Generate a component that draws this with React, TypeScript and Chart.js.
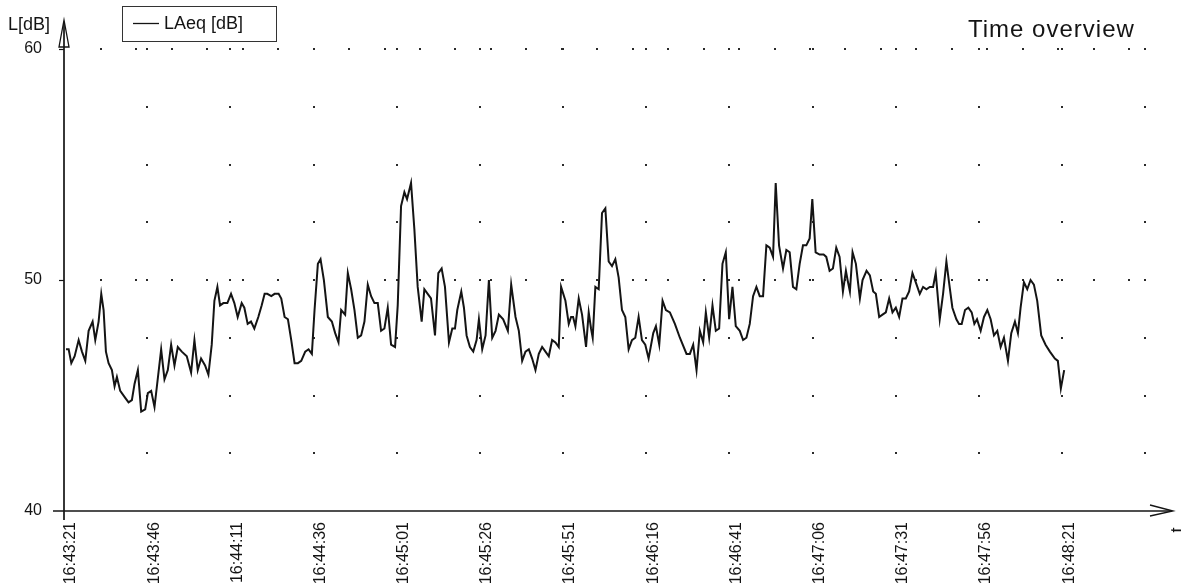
import { useEffect, useRef } from 'react';
import { Chart, registerables } from 'chart.js';

Chart.register(...registerables);

// ---------- data ----------
const startClock = [16, 43, 21]; // hh, mm, ss at t = 0
const tickSeconds = [0, 25, 50, 75, 100, 125, 150, 175, 200, 225, 250, 275, 300];
const gridSeconds = [25, 50, 75, 100, 125, 150, 175, 200, 225, 250, 275, 300, 325];
const yTickValues = [40, 50, 60];
const yDotLevels = [42.5, 45, 47.5, 52.5, 55, 57.5];
const yDottedLines = [50, 60];
const seriesLabel = 'LAeq [dB]';
const chartTitle = 'Time overview';
const yAxisTitle = 'L[dB]';
const xAxisTitle = 't';

// seconds after 16:43:21
const times = [
  0.6, 1.4, 2.2, 3.2, 4.4, 5.4, 6.4, 7.4, 8.6, 9.4, 10.4, 11.2, 11.9, 12.6, 13.4, 14.4, 15.2, 15.9, 16.9, 18.4,
  19.4, 20.4, 21.2, 22.2, 23.2, 24.4, 25.2, 26.2, 27.2, 29.2, 30.2, 31.2, 32.2, 33.2, 34.2, 35.4, 36.9, 38.2, 39.2, 40.2,
  41.2, 42.4, 43.4, 44.4, 45.2, 46.1, 46.9, 47.9, 49.1, 50.2, 51.2, 52.2, 53.4, 54.2, 55.2, 56.2, 57.2, 58.4, 59.4,
  60.3, 61.1, 62.3, 63.3, 64.5, 65.3, 66.3, 67.3, 68.3, 69.3, 70.3, 71.3, 72.5, 73.5, 74.5, 75.3, 76.3, 77.1, 78.1, 79.3,
  80.5, 81.5, 82.5, 83.3, 84.5, 85.3, 86.3, 87.3, 88.3, 89.3, 90.3, 91.3, 92.3, 93.3, 94.3, 95.3, 96.3, 97.3, 98.3, 99.5,
  100.3, 101.3, 102.3, 103.1, 104.3, 105.3, 106.3, 107.5, 108.3, 109.3, 110.3, 111.5, 112.5, 113.5, 114.5, 115.7, 116.7, 117.5,
  118.2, 119.4, 120.2, 121.0, 122.0, 123.0, 124.0, 124.7, 125.7, 126.7, 127.7, 128.7, 129.7, 130.7, 132.0, 133.4, 134.4, 135.7,
  136.7, 137.7, 138.7, 139.7, 140.7, 141.7, 142.7, 143.7, 144.7, 145.7, 146.7, 147.7, 148.7, 149.4, 150.7, 151.7, 152.4, 153.0,
  153.7, 154.7, 155.7, 156.9, 157.7, 158.4, 158.9, 159.7, 160.7, 161.7, 162.7, 163.7, 164.7, 165.7, 166.7, 167.7, 168.7, 169.7,
  170.7, 171.7, 172.7, 173.7, 174.7, 175.7,
  177.1, 177.9, 178.9, 179.9, 180.9, 182.1, 183.6, 185.1, 187.1, 188.1, 189.1, 190.1, 191.1, 192.1, 192.9, 193.9, 194.9, 195.9,
  196.9, 197.9, 198.9, 199.9, 200.9, 201.9, 203.1, 204.1, 205.1, 206.1, 207.1, 208.1, 209.1, 210.1, 211.1, 212.1, 213.1, 213.9,
  214.9, 216.1, 217.1, 218.1, 219.1, 220.1, 221.1, 222.1, 223.1, 224.1, 224.9, 225.9, 227.1, 228.3, 229.1, 230.1, 231.1, 232.1,
  233.1, 234.1,
  235.0, 235.5, 236.2, 237.0, 238.0, 239.2, 240.0, 241.2, 242.2, 243.2, 244.0, 245.0, 246.0, 247.0, 248.0, 249.0, 250.0, 251.0,
  252.0, 253.0, 254.0, 255.0, 256.0, 257.2, 258.2, 259.2, 260.2, 261.2, 262.0, 263.2, 264.2, 265.2, 266.0, 267.0, 268.2, 269.0,
  269.8, 270.8, 271.8, 272.8, 273.6, 274.4, 275.5, 276.5, 277.5, 278.5, 279.5, 280.5, 281.5, 282.5, 283.7, 284.7, 285.8, 286.7,
  287.5, 288.5, 289.5, 290.5, 291.5, 292.5, 293.7, 295.0, 296.3, 297.8, 298.7, 299.6, 300.6,
];

const levels = [
  47.0, 47.0, 46.4, 46.7, 47.4, 46.9, 46.5, 47.8, 48.2, 47.4, 48.2, 49.4, 48.7, 46.9, 46.4, 46.1, 45.4, 45.8, 45.2, 44.9,
  44.7, 44.8, 45.5, 46.1, 44.3, 44.4, 45.1, 45.2, 44.5, 47.0, 45.7, 46.1, 47.2, 46.3, 47.1, 46.9, 46.7, 46.0, 47.4, 46.1,
  46.6, 46.3, 45.9, 47.2, 49.1, 49.7, 48.9, 49.0, 49.0, 49.4, 49.0, 48.4, 49.0, 48.8, 48.1, 48.2, 47.9, 48.4, 48.9,
  49.4, 49.4, 49.3, 49.4, 49.4, 49.2, 48.4, 48.3, 47.4, 46.4, 46.4, 46.5, 46.9, 47.0, 46.8, 48.7, 50.7, 50.9, 50.0, 48.4,
  48.2, 47.7, 47.3, 48.7, 48.5, 50.3, 49.6, 48.7, 47.5, 47.6, 48.2, 49.8, 49.3, 49.0, 49.0, 47.8, 47.9, 48.8, 47.2, 47.1,
  48.9, 53.2, 53.8, 53.5, 54.2, 52.2, 49.7, 48.2, 49.6, 49.4, 49.2, 47.6, 50.3, 50.5, 49.7, 47.3, 47.9, 47.9,
  48.7, 49.5, 48.8, 47.6, 47.1, 46.9, 47.4, 48.3, 47.0, 47.6, 50.0, 47.5, 47.8, 48.5, 48.3, 47.8, 49.8, 48.4,
  47.8, 46.5, 46.9, 47.0, 46.6, 46.1, 46.8, 47.1, 46.9, 46.7, 47.4, 47.3, 47.1, 49.7, 49.1, 48.1, 48.4, 48.4,
  48.0, 49.2, 48.5, 47.1, 48.6, 47.9, 47.5, 49.7, 49.6, 52.9, 53.1, 50.8, 50.6, 50.9, 50.1, 48.7, 48.4, 47.0,
  47.4, 47.5, 48.4, 47.4, 47.2, 46.6,
  47.7, 48.0, 47.2, 49.1, 48.7, 48.6, 48.1, 47.5, 46.8, 46.8, 47.2, 46.1, 47.8, 47.3, 48.6, 47.5, 48.9, 47.8,
  47.9, 50.7, 51.2, 48.3, 49.7, 48.0, 47.8, 47.4, 47.5, 48.1, 49.3, 49.7, 49.3, 49.3, 51.5, 51.4, 51.0, 54.2,
  51.5, 50.5, 51.3, 51.2, 49.7, 49.6, 50.7, 51.5, 51.5, 51.8, 53.5, 51.2, 51.1, 51.1, 51.0, 50.4, 50.5, 51.4,
  51.0, 49.5,
  50.4, 50.0, 49.5, 51.2, 50.7, 49.2, 50.0, 50.4, 50.2, 49.5, 49.4, 48.4, 48.5, 48.6, 49.2, 48.6, 48.8, 48.4,
  49.2, 49.2, 49.5, 50.3, 49.9, 49.4, 49.7, 49.6, 49.7, 49.7, 50.3, 48.3, 49.4, 50.8, 49.9, 48.8, 48.3, 48.1,
  48.1, 48.7, 48.8, 48.6, 48.1, 48.3, 47.8, 48.4, 48.7, 48.3, 47.6, 47.8, 47.1, 47.5, 46.5, 47.7, 48.2, 47.7,
  48.8, 49.9, 49.6, 50.0, 49.8, 49.1, 47.6, 47.2, 46.9, 46.6, 46.5, 45.3, 46.1,
];

// ---------- helpers ----------
const FONT = '"Liberation Sans", Arial, Helvetica, sans-serif';
const INK = '#141414';

function clockLabel(sec: number): string {
  const total = startClock[0] * 3600 + startClock[1] * 60 + startClock[2] + Math.round(sec);
  const h = Math.floor(total / 3600);
  const m = Math.floor((total % 3600) / 60);
  const s = total % 60;
  const p = (n: number) => String(n).padStart(2, '0');
  return `${p(h)}:${p(m)}:${p(s)}`;
}

const decorPlugin = {
  id: 'decor',
  beforeDatasetsDraw(chart: any) {
    const { ctx, chartArea, scales } = chart;
    const x = scales.x;
    const y = scales.y;
    ctx.save();
    ctx.fillStyle = '#2a2a2a';
    // grid intersection dots
    for (const t of gridSeconds) {
      const px = Math.round(x.getPixelForValue(t));
      for (const v of yDotLevels.concat(yDottedLines)) {
        const py = Math.round(y.getPixelForValue(v));
        ctx.fillRect(px - 1, py - 1, 2, 2);
      }
    }
    // dotted major lines
    for (const v of yDottedLines) {
      const py = Math.round(y.getPixelForValue(v));
      for (let px = chartArea.left + 37; px <= chartArea.right - 25; px += 35.45) {
        ctx.fillRect(Math.round(px) - 1, py - 1, 2, 2);
      }
    }
    ctx.restore();
  },
  afterDraw(chart: any) {
    const { ctx, chartArea, scales } = chart;
    const y = scales.y;
    const left = chartArea.left;
    const bottom = chartArea.bottom;
    ctx.save();
    ctx.strokeStyle = INK;
    ctx.fillStyle = INK;
    ctx.lineWidth = 1.7;
    // y axis
    ctx.beginPath();
    ctx.moveTo(left, 22);
    ctx.lineTo(left, bottom + 9);
    ctx.stroke();
    // y arrow (outlined)
    ctx.lineWidth = 1.3;
    ctx.beginPath();
    ctx.moveTo(left, 20);
    ctx.lineTo(left - 5, 47);
    ctx.lineTo(left + 5, 47);
    ctx.closePath();
    ctx.stroke();
    // x axis
    ctx.lineWidth = 1.7;
    ctx.beginPath();
    ctx.moveTo(left - 11, bottom);
    ctx.lineTo(1172, bottom);
    ctx.stroke();
    // x arrow (open)
    ctx.lineWidth = 1.3;
    ctx.beginPath();
    ctx.moveTo(1150, bottom - 6);
    ctx.lineTo(1173, bottom);
    ctx.lineTo(1150, bottom + 5);
    ctx.stroke();
    // y tick marks
    ctx.lineWidth = 1.2;
    for (const v of yTickValues) {
      if (v === yTickValues[0]) continue;
      const py = Math.round(y.getPixelForValue(v)) + 0.5;
      ctx.beginPath();
      ctx.moveTo(left - 5, py);
      ctx.lineTo(left, py);
      ctx.stroke();
    }
    // axis titles
    ctx.font = `18px ${FONT}`;
    ctx.textAlign = 'left';
    ctx.textBaseline = 'alphabetic';
    ctx.fillText(yAxisTitle, 8, 30);
    ctx.save();
    ctx.translate(1178, 530);
    ctx.rotate(-Math.PI / 2);
    ctx.font = `18px ${FONT}`;
    ctx.textAlign = 'center';
    ctx.textBaseline = 'middle';
    ctx.fillText(xAxisTitle, 0, 0);
    ctx.restore();
    // legend
    const ds = chart.data.datasets[0];
    ctx.lineWidth = 1;
    ctx.strokeStyle = '#333';
    ctx.strokeRect(122.5, 6.5, 154, 35);
    ctx.strokeStyle = ds.borderColor;
    ctx.lineWidth = 1.3;
    ctx.beginPath();
    ctx.moveTo(133, 23.5);
    ctx.lineTo(159, 23.5);
    ctx.stroke();
    ctx.font = `18px ${FONT}`;
    ctx.textBaseline = 'middle';
    ctx.fillText(ds.label, 164, 24);
    // title
    ctx.font = `24px ${FONT}`;
    (ctx as any).letterSpacing = '1px';
    ctx.textBaseline = 'alphabetic';
    ctx.fillText(chartTitle, 968, 37);
    ctx.restore();
  },
};

export default function App() {
  const ref = useRef<HTMLCanvasElement>(null);
  useEffect(() => {
    const canvas = ref.current;
    if (!canvas) return;
    const points = times.map((t, i) => ({ x: t, y: levels[i] }));
    const chart = new Chart(canvas, {
      type: 'line',
      data: {
        datasets: [
          {
            label: seriesLabel,
            data: points,
            borderColor: INK,
            borderWidth: 2,
            pointRadius: 0,
            tension: 0,
            fill: false,
          },
        ],
      },
      options: {
        animation: false,
        responsive: false,
        devicePixelRatio: 1,
        layout: { padding: { top: 49, right: 19, left: 0, bottom: 0 } },
        plugins: {
          legend: { display: false },
          title: { display: false },
          tooltip: { enabled: false },
        },
        scales: {
          x: {
            type: 'linear',
            min: 0,
            max: 330,
            afterFit: (s: any) => {
              s.height = 77;
            },
            afterBuildTicks: (s: any) => {
              s.ticks = tickSeconds.map((v) => ({ value: v }));
            },
            ticks: {
              autoSkip: false,
              minRotation: 90,
              maxRotation: 90,
              padding: 11,
              labelOffset: 7,
              color: INK,
              font: { family: FONT, size: 16 },
              callback: (v: any) => clockLabel(Number(v)),
            },
            grid: { display: false, drawTicks: false },
            border: { display: false },
          },
          y: {
            min: 40,
            max: 60,
            afterFit: (s: any) => {
              s.width = 64;
            },
            afterBuildTicks: (s: any) => {
              s.ticks = yTickValues.map((v) => ({ value: v }));
            },
            ticks: {
              padding: 22,
              color: INK,
              font: { family: FONT, size: 16 },
            },
            grid: { display: false, drawTicks: false },
            border: { display: false },
          },
        },
      },
      plugins: [decorPlugin],
    } as any);
    return () => chart.destroy();
  }, []);
  return (
    <div style={{ position: 'fixed', left: 0, top: 0, width: 1181, height: 588, background: '#fff' }}>
      <canvas ref={ref} width={1181} height={588} style={{ display: 'block', width: 1181, height: 588 }} />
    </div>
  );
}
